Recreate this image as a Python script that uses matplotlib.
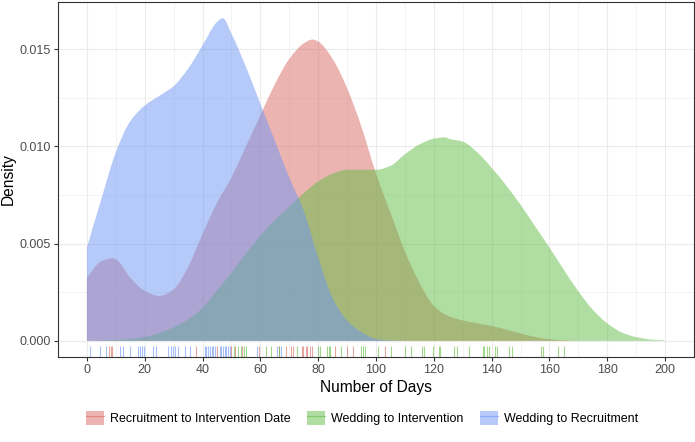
import matplotlib
matplotlib.use("Agg")
import matplotlib.pyplot as plt
from matplotlib.patches import Patch, PathPatch
from matplotlib.path import Path
from matplotlib.lines import Line2D
from matplotlib.legend_handler import HandlerTuple

plt.rcParams['font.family'] = ['Liberation Sans', 'DejaVu Sans']

# ---------------- data ----------------
series_names = ["Recruitment to Intervention Date", "Wedding to Intervention", "Wedding to Recruitment"]

red_x = [0, 5, 9, 10, 15, 20, 25, 30, 35, 40, 45, 50, 55, 60, 65, 70, 75, 78, 80, 85, 90, 95,
         100, 105, 110, 115, 120, 125, 130, 135, 140, 145, 150, 155, 160, 165, 170]
red_y = [0.00325, 0.0041, 0.00425, 0.0042, 0.00325, 0.00257, 0.00231, 0.00265, 0.0038, 0.0055,
         0.0071, 0.0084, 0.0100, 0.0116, 0.0132, 0.0145, 0.0153, 0.0155, 0.0154, 0.0145, 0.0130,
         0.0110, 0.0086, 0.0066, 0.0046, 0.0030, 0.0018, 0.00128, 0.00105, 0.0009, 0.00077,
         0.00058, 0.00038, 0.0002, 0.00008, 0.00003, 0.0]

green_x = [0, 5, 10, 15, 20, 25, 30, 35, 40, 45, 50, 55, 60, 65, 70, 75, 80, 85, 90, 95, 100,
           105, 110, 115, 120, 124, 125, 130, 135, 140, 145, 150, 155, 160, 165, 170, 175, 180,
           185, 190, 195, 200]
green_y = [0.0, 0.00002, 0.00005, 0.0001, 0.0002, 0.0004, 0.0007, 0.0011, 0.0017, 0.0026, 0.0035,
           0.0045, 0.0054, 0.0062, 0.0069, 0.0076, 0.0082, 0.0086, 0.0088, 0.0088, 0.0088, 0.0090,
           0.0096, 0.0101, 0.0104, 0.01047, 0.0104, 0.01025, 0.0097, 0.0089, 0.0080, 0.0070, 0.0059,
           0.0048, 0.00365, 0.00255, 0.0016, 0.0009, 0.00043, 0.00019, 0.00007, 0.00002]

blue_x = [0, 5, 10, 15, 20, 25, 30, 35, 40, 45, 47, 50, 55, 60, 65, 70, 75, 80, 85, 90, 95, 100,
          105, 110]
blue_y = [0.0048, 0.0073, 0.0097, 0.0113, 0.0121, 0.0126, 0.0131, 0.0140, 0.0152, 0.0164, 0.0166,
          0.0158, 0.0141, 0.0122, 0.0103, 0.0084, 0.0067, 0.0043, 0.0022, 0.00105, 0.00045,
          0.0001, 0.00002, 0.0]

red_rug = [7.6, 8.2, 8.8, 37.8, 45.1, 49.9, 51.3, 53.7, 59.7, 66.4, 69.0, 70.7, 71.4, 74.3, 74.9,
           75.8, 76.3, 77.0, 77.8, 85.8, 89.8, 91.9, 103.1]
green_rug = [50.8, 52.3, 53.2, 54.5, 55.1, 62.0, 63.8, 66.4, 72.5, 79.8, 80.6, 82.9, 83.6, 84.1,
             87.9, 94.8, 95.6, 96.2, 100.8, 105.1, 110.0, 112.0, 116.0, 116.6, 119.8, 121.9, 122.1,
             127.0, 127.9, 132.2, 136.9, 137.5, 138.3, 139.0, 141.0, 142.0, 146.1, 146.9, 157.1,
             157.9, 163.1, 165.0]
blue_rug = [0.9, 4.7, 6.7, 11.5, 12.5, 14.8, 17.6, 18.2, 19.0, 19.7, 22.8, 23.8, 28.0, 29.0, 29.8,
            30.6, 31.5, 33.8, 35.5, 40.7, 41.3, 41.9, 42.5, 43.1, 43.6, 44.2, 45.9, 46.5, 47.0,
            47.6, 48.2, 48.8, 49.4, 58.9, 65.9, 67.0]

x_ticks = [0, 20, 40, 60, 80, 100, 120, 140, 160, 180, 200]
y_ticks = [0.000, 0.005, 0.010, 0.015]
y_tick_labels = ["0.000", "0.005", "0.010", "0.015"]

# ---------------- styling ----------------
colors = ["#D96B62", "#62BD44", "#6E96F5"]
fill_alpha = 0.5
rug_alpha = 0.6


def smooth_area_path(xs, ys):
    """Closed area path whose top edge is a smooth (monotone cubic) curve through the points."""
    n = len(xs)
    h = [xs[i + 1] - xs[i] for i in range(n - 1)]
    d = [(ys[i + 1] - ys[i]) / h[i] for i in range(n - 1)]
    m = [0.0] * n
    m[0] = d[0]
    m[-1] = d[-1]
    for i in range(1, n - 1):
        if d[i - 1] * d[i] <= 0:
            m[i] = 0.0
        else:
            w1 = 2 * h[i] + h[i - 1]
            w2 = h[i] + 2 * h[i - 1]
            m[i] = (w1 + w2) / (w1 / d[i - 1] + w2 / d[i])
    verts = [(xs[0], 0.0), (xs[0], ys[0])]
    codes = [Path.MOVETO, Path.LINETO]
    for i in range(n - 1):
        hh = h[i]
        verts += [(xs[i] + hh / 3, ys[i] + m[i] * hh / 3),
                  (xs[i + 1] - hh / 3, ys[i + 1] - m[i + 1] * hh / 3),
                  (xs[i + 1], ys[i + 1])]
        codes += [Path.CURVE4] * 3
    verts += [(xs[-1], 0.0), (xs[0], 0.0)]
    codes += [Path.LINETO, Path.CLOSEPOLY]
    return Path(verts, codes)


W, H = 695, 442
fig = plt.figure(figsize=(W / 100, H / 100), dpi=100)
ax = fig.add_axes([58 / W, 1 - 357 / H, (694 - 58) / W, (357 - 2) / H])

curves = [(red_x, red_y), (green_x, green_y), (blue_x, blue_y)]
rugs = [red_rug, green_rug, blue_rug]

for i, ((xs, ys), c) in enumerate(zip(curves, colors)):
    ax.add_patch(PathPatch(smooth_area_path(xs, ys), facecolor=c, alpha=fill_alpha,
                           edgecolor='none', linewidth=0, zorder=2 + i))

trans = ax.get_xaxis_transform()
for rug, c in zip(rugs, colors):
    for v in rug:
        ax.plot([v, v], [0, 0.03], transform=trans, color=c, alpha=rug_alpha, lw=0.8,
                solid_capstyle='butt', zorder=6)

ax.set_xlim(-10, 210)
ax.set_ylim(-0.00083, 0.01743)
ax.set_xticks(x_ticks)
ax.set_xticklabels([str(t) for t in x_ticks])
ax.set_yticks(y_ticks)
ax.set_yticklabels(y_tick_labels)
ax.set_xticks([t + 10 for t in x_ticks[:-1]], minor=True)
ax.set_yticks([0.0025, 0.0075, 0.0125], minor=True)

ax.set_facecolor("white")
ax.grid(True, which='major', color='#EBEBEB', lw=0.8, zorder=0)
ax.grid(True, which='minor', color='#EBEBEB', lw=0.4, zorder=0)
ax.set_axisbelow(True)
for s in ax.spines.values():
    s.set_color('#333333')
    s.set_linewidth(0.8)
    s.set_zorder(10)

ax.tick_params(which='major', length=3, width=0.8, color='#333333', labelcolor='#4D4D4D',
               labelsize=9, pad=2)
ax.tick_params(which='minor', length=0)

ax.set_xlabel("Number of Days", fontsize=11.2, color='black', labelpad=3)
ax.set_ylabel("Density", fontsize=11.2, color='black', labelpad=3)

handles = []
for c in colors:
    p = Patch(facecolor=c, alpha=fill_alpha, edgecolor='none')
    l = Line2D([0], [0], color=c, alpha=rug_alpha, lw=0.8)
    handles.append((p, l))

fig.legend(handles, series_names, handler_map={tuple: HandlerTuple(ndivide=1, pad=0)},
           loc='center', bbox_to_anchor=(362 / W, 1 - 418 / H), ncol=3, frameon=False,
           fontsize=9, handlelength=1.45, handleheight=1.45, handletextpad=0.5,
           columnspacing=1.3, borderaxespad=0)

fig.savefig("out.png", dpi=100, facecolor="white")
